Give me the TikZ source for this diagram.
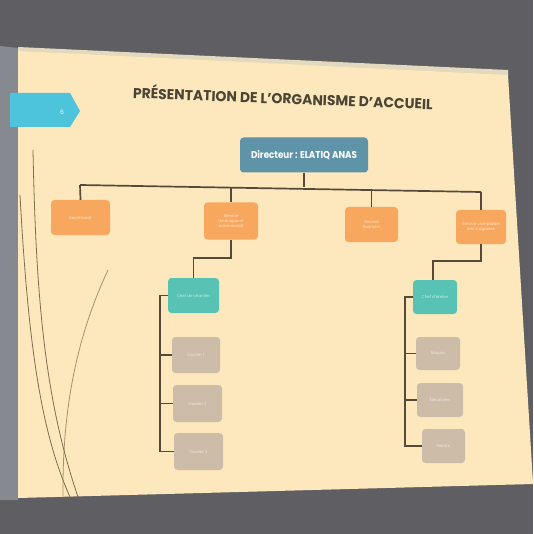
\documentclass[tikz,border=0pt]{standalone}
\usepackage{fontspec}
\usepackage{graphicx}
\setmainfont{Poppins}
\definecolor{bgdark}{HTML}{5F5F63}
\definecolor{strip}{HTML}{878990}
\definecolor{frameband}{HTML}{E2D9BF}
\definecolor{cream}{HTML}{FCE8BC}
\definecolor{tabblue}{HTML}{4DC3DC}
\definecolor{titlecol}{HTML}{4A4535}
\definecolor{dirblue}{HTML}{5E93A8}
\definecolor{orangebox}{HTML}{F8A85E}
\definecolor{tealbox}{HTML}{58C3B5}
\definecolor{greybox}{HTML}{CDBCA8}
\definecolor{linecol}{HTML}{54493A}
\definecolor{decol}{HTML}{7D6E52}
\begin{document}
\begin{tikzpicture}[x=1pt,y=-1pt,
  box/.style={rounded corners=3.5pt, inner sep=0pt, align=center, text=white, text opacity=0.7,
              font=\fontsize{4}{5}\selectfont},
  orgbox/.style={box, fill=orangebox},
  teabox/.style={box, fill=tealbox},
  grybox/.style={box, fill=greybox},
  dirbox/.style={rounded corners=3.5pt, inner sep=0pt, fill=dirblue, text=white},
  link/.style={draw=linecol, line width=1.7pt},
  deco/.style={draw=decol, line width=0.8pt}]
\useasboundingbox (0,0) rectangle (533,534);
% background and screen
\fill[bgdark] (0,0) rectangle (533,534);
\fill[strip] (0,46) -- (18,48) -- (18,500) -- (0,500) -- cycle;
\fill[frameband] (18,47) -- (508,70) -- (508,76) -- (18,52) -- cycle;
\fill[cream] (18,51) -- (508,75) -- (533,483) -- (533,484) -- (18,498) -- cycle;
% decorative lines
\draw[deco] (33,150) .. controls (36,300) and (45,400) .. (78,497);
\draw[deco] (20,195) .. controls (28,340) and (40,430) .. (70,497);
\draw[deco, draw opacity=0.7] (108,270) .. controls (80,330) and (62,400) .. (63,497);
% slide number tab
\fill[tabblue] (10,93) -- (70,93) -- (80,111) -- (70,127) -- (10,127) -- cycle;
\node[text=white, font=\fontsize{6}{6}\selectfont] (num) at (62,112) {6};
% title
\node[rotate=-2.2, text=titlecol, inner sep=0pt] (title) at (283,97)
  {\resizebox{300pt}{14pt}{\bfseries PRÉSENTATION DE L’ORGANISME D’ACCUEIL}};
% director
\node[dirbox, minimum width=128pt, minimum height=35pt] (dir) at (304,155)
  {\resizebox{106pt}{8pt}{\bfseries Directeur : ELATIQ ANAS}};
% level 1
\node[orgbox, minimum width=59pt, minimum height=35pt] (o1) at (80.5,217.5) {Secrétariat};
\node[orgbox, minimum width=54pt, minimum height=37pt] (o2) at (231,221) {Service\\technique et\\commercial};
\node[orgbox, minimum width=53pt, minimum height=35pt] (o3) at (371.5,224.5) {Service\\financier};
\node[orgbox, minimum width=50pt, minimum height=34pt] (o4) at (481,227) {Service comptable\\des stagiaires};
% level 2
\node[teabox, minimum width=51pt, minimum height=35pt] (tL) at (193.5,295.5) {Chef de chantier};
\node[teabox, minimum width=44pt, minimum height=34pt] (tR) at (435,297) {Chef d’atelier};
% level 3
\node[grybox, minimum width=48pt, minimum height=36pt] (gL1) at (196,355) {Ouvrier 1};
\node[grybox, minimum width=49pt, minimum height=37pt] (gL2) at (197.5,403.5) {Ouvrier 2};
\node[grybox, minimum width=49pt, minimum height=37pt] (gL3) at (198.5,451.5) {Ouvrier 3};
\node[grybox, minimum width=44pt, minimum height=33pt] (gR1) at (438,353.5) {Maçon};
\node[grybox, minimum width=46pt, minimum height=34pt] (gR2) at (440,400) {Électricien};
\node[grybox, minimum width=43pt, minimum height=34pt] (gR3) at (443.5,446) {Peintre};
% bus
\coordinate (b0) at (304,187);
\coordinate (b1) at (80,185);
\coordinate (b2) at (231,188.5);
\coordinate (b3) at (371.5,190.5);
\coordinate (b4) at (481,192);
\draw[link] (dir.south) -- (b0);
\draw[link] (b1) -- (b4);
\draw[link] (b1) -- (o1.north);
\draw[link] (b2) -- (o2.north);
\draw[link] (b3) -- (o3.north);
\draw[link] (b4) -- (o4.north);
% to level 2
\draw[link] (o2.south) -- ++(0,18.5) -| (tL.north);
\draw[link] (o4.south) -- ++(0,17) -| ([xshift=-2pt]tR.north);
% left tree
\coordinate (vL) at (160,295.5);
\draw[link] (tL.west) -- (vL) |- (gL3.west);
\draw[link] (gL1.west) -- (gL1.west -| vL);
\draw[link] (gL2.west) -- (gL2.west -| vL);
% right tree
\coordinate (vR) at (405,297);
\draw[link] (tR.west) -- (vR) |- (gR3.west);
\draw[link] (gR1.west) -- (gR1.west -| vR);
\draw[link] (gR2.west) -- (gR2.west -| vR);
\end{tikzpicture}
\end{document}
